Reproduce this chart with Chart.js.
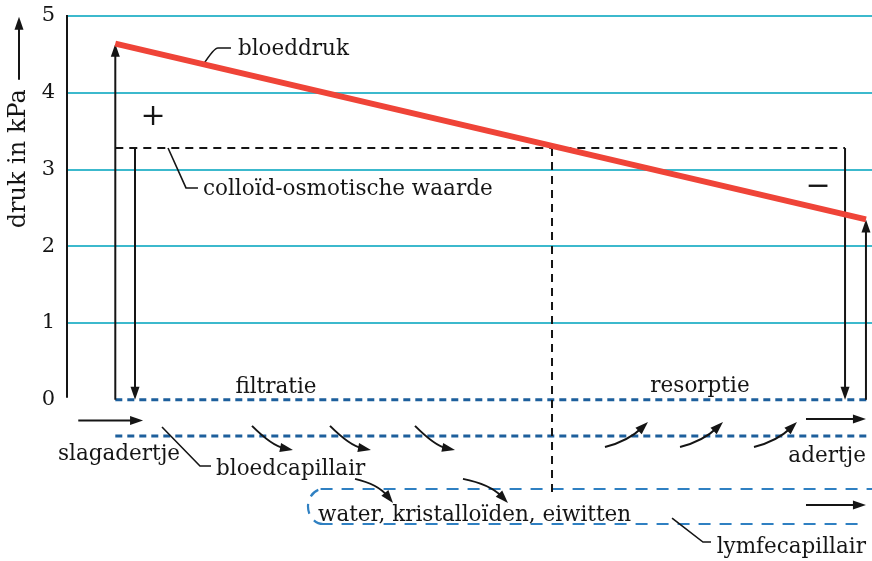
<!DOCTYPE html>
<html>
<head>
<meta charset="utf-8">
<script src="https://cdn.jsdelivr.net/npm/chart.js@4/dist/chart.umd.min.js"></script>
<style>
  html, body { margin: 0; padding: 0; background: #fff; }
  #wrap { width: 872px; height: 561px; }
</style>
</head>
<body>
<div id="wrap"><canvas id="chart"></canvas></div>
<script>
// ─── Data ─────────────────────────────────────────────────────────────────────
// x: position along the capillary (0 = y-axis, 100 = right edge), y: pressure in kPa
const pressureTicks = [0, 1, 2, 3, 4, 5];
const bloodX = [6, 99.25];
const bloodPressure = [4.64, 2.35];
const colloidX = [6, 96.65];
const colloidPressure = [3.28, 3.28];

// ─── Diagram annotations (data units) ─────────────────────────────────────────
const FONT = "'DejaVu Serif', serif";
const INK = '#151515';

// straight arrows [x1, y1, x2, y2], head at the second point
const straightArrows = [
  [bloodX[0], 0, bloodX[0], bloodPressure[0]],
  [8.45, colloidPressure[0], 8.45, 0],
  [colloidX[1], colloidPressure[1], colloidX[1], 0],
  [bloodX[1], 0, bloodX[1], bloodPressure[1]],
  [1.4, -0.27, 9.45, -0.27],
  [91.8, -0.25, 99.25, -0.25],
  [91.8, -1.37, 99.25, -1.37],
];

// curved arrows [sx, sy, cx, cy, ex, ey]
const curvedArrows = [
  // filtration out of the blood capillary
  [22.98, -0.34, 25.47, -0.60, 28.07, -0.654],
  [32.67, -0.34, 35.16, -0.60, 37.76, -0.654],
  [43.23, -0.34, 45.71, -0.60, 48.20, -0.654],
  // resorption back in
  [66.83, -0.615, 69.69, -0.537, 72.17, -0.289],
  [76.15, -0.615, 79.01, -0.537, 81.49, -0.289],
  [85.34, -0.615, 88.20, -0.537, 90.68, -0.289],
  // into the lymph capillary
  [35.78, -1.03, 38.63, -1.10, 40.50, -1.344],
  [49.19, -1.03, 52.55, -1.10, 54.78, -1.344],
];

// label leaders [x1, y1, cx, cy, x2, y2]
const leaders = [
  [16.89, 4.36, 18.26, 4.583, 20.37, 4.583],
  [12.55, 3.28, 14.78, 2.76, 16.27, 2.76],
  [11.80, -0.354, 16.52, -0.862, 17.89, -0.862],
  [75.16, -1.54, 79.00, -1.853, 80.00, -1.853],
];
const leaderCorners = [false, true, true, true];

// texts [text, x, y, align, baseline, size]
const labels = [
  ['bloeddruk', 21.24, 4.49, 'left', 'alphabetic', 21.5],
  ['colloïd-osmotische waarde', 16.89, 2.668, 'left', 'alphabetic', 21.5],
  ['+', 10.68, 3.684, 'center', 'middle', 30],
  ['\u2212', 93.29, 2.772, 'center', 'middle', 30],
  ['filtratie', 25.96, 0.091, 'center', 'alphabetic', 21.5],
  ['resorptie', 78.63, 0.104, 'center', 'alphabetic', 21.5],
  ['slagadertje', -1.12, -0.784, 'left', 'alphabetic', 21.5],
  ['bloedcapillair', 18.51, -0.98, 'left', 'alphabetic', 21.5],
  ['adertje', 99.25, -0.81, 'right', 'alphabetic', 21.5],
  ['water, kristalloïden, eiwitten', 31.18, -1.579, 'left', 'alphabetic', 21.5],
  ['lymfecapillair', 99.25, -1.996, 'right', 'alphabetic', 21.5],
];

const capillaryWall = [0, -0.47];      // blood capillary (dotted)
const lymphWall = [-1.162, -1.618];    // lymph capillary (dashed)

function arrowHead(ctx, tx, ty, ang) {
  ctx.save();
  ctx.translate(tx, ty);
  ctx.rotate(ang);
  ctx.beginPath();
  ctx.moveTo(0, 0);
  ctx.lineTo(-13, -4.5);
  ctx.lineTo(-13, 4.5);
  ctx.closePath();
  ctx.fill();
  ctx.restore();
}

const diagram = {
  id: 'diagram',
  beforeDatasetsDraw(chart) {
    const { ctx, scales: { x, y } } = chart;
    const px = v => x.getPixelForValue(v);
    const py = v => y.getPixelForValue(v);

    ctx.save();
    ctx.lineCap = 'butt';

    // y-axis line from 0 to 5
    ctx.strokeStyle = INK;
    ctx.lineWidth = 2;
    ctx.beginPath();
    ctx.moveTo(px(0), py(5) - 1);
    ctx.lineTo(px(0), py(0) - 2);
    ctx.stroke();

    // blood capillary walls
    ctx.strokeStyle = '#1d5f9c';
    ctx.lineWidth = 3;
    ctx.setLineDash([7, 5]);
    capillaryWall.forEach(v => {
      ctx.beginPath();
      ctx.moveTo(px(bloodX[0]), py(v));
      ctx.lineTo(px(99.5), py(v));
      ctx.stroke();
    });

    // lymph capillary with a closed left end
    ctx.strokeStyle = '#2f80c2';
    ctx.lineWidth = 2.2;
    ctx.setLineDash([12, 9]);
    const yTop = py(lymphWall[0]);
    const yBot = py(lymphWall[1]);
    ctx.beginPath();
    ctx.moveTo(px(31.5), yTop);
    ctx.lineTo(px(100), yTop);
    ctx.stroke();
    ctx.beginPath();
    ctx.moveTo(px(31.5), yBot);
    ctx.lineTo(px(98.6), yBot);
    ctx.stroke();
    ctx.setLineDash([10, 8]);
    ctx.beginPath();
    ctx.ellipse(px(31.8), (yTop + yBot) / 2, 15, (yBot - yTop) / 2, 0, Math.PI / 2, Math.PI * 1.5);
    ctx.stroke();

    // vertical dashed line where blood pressure meets colloid pressure
    ctx.strokeStyle = INK;
    ctx.lineWidth = 2;
    ctx.setLineDash([8, 6]);
    ctx.beginPath();
    ctx.moveTo(px(60.25), py(colloidPressure[0]));
    ctx.lineTo(px(60.25), py(-1.24));
    ctx.stroke();
    ctx.setLineDash([]);

    // straight arrows
    ctx.fillStyle = INK;
    straightArrows.forEach(([x1, y1, x2, y2]) => {
      const a = { x: px(x1), y: py(y1) };
      const b = { x: px(x2), y: py(y2) };
      const ang = Math.atan2(b.y - a.y, b.x - a.x);
      ctx.beginPath();
      ctx.moveTo(a.x, a.y);
      ctx.lineTo(b.x - Math.cos(ang) * 10, b.y - Math.sin(ang) * 10);
      ctx.stroke();
      arrowHead(ctx, b.x, b.y, ang);
    });

    // curved arrows
    curvedArrows.forEach(([sx, sy, cx, cy, ex, ey]) => {
      const s = { x: px(sx), y: py(sy) };
      const c = { x: px(cx), y: py(cy) };
      const e = { x: px(ex), y: py(ey) };
      const ang = Math.atan2(e.y - c.y, e.x - c.x);
      ctx.beginPath();
      ctx.moveTo(s.x, s.y);
      ctx.quadraticCurveTo(c.x, c.y, e.x - Math.cos(ang) * 9, e.y - Math.sin(ang) * 9);
      ctx.stroke();
      arrowHead(ctx, e.x, e.y, ang);
    });

    // label leaders
    ctx.lineWidth = 1.6;
    leaders.forEach(([x1, y1, cx, cy, x2, y2], i) => {
      ctx.beginPath();
      ctx.moveTo(px(x1), py(y1));
      if (leaderCorners[i]) ctx.lineTo(px(cx), py(cy));
      else ctx.quadraticCurveTo(px(cx), py(cy), px(cx) + 4, py(cy));
      ctx.lineTo(px(x2), py(y2));
      ctx.stroke();
    });

    ctx.restore();
  },
  afterDraw(chart) {
    const { ctx, scales: { x, y } } = chart;
    const px = v => x.getPixelForValue(v);
    const py = v => y.getPixelForValue(v);

    ctx.save();
    ctx.fillStyle = INK;
    labels.forEach(([text, lx, ly, align, base, size]) => {
      ctx.font = `${size}px ${FONT}`;
      ctx.textAlign = align;
      ctx.textBaseline = base;
      ctx.fillText(text, px(lx), py(ly));
    });

    // y-axis title with its upward arrow
    const tx = y.left + 19;
    ctx.translate(tx, py(3.14));
    ctx.rotate(-Math.PI / 2);
    ctx.font = `24px ${FONT}`;
    ctx.textAlign = 'center';
    ctx.textBaseline = 'middle';
    ctx.fillText('druk in kPa', 0, 0);
    ctx.restore();

    ctx.save();
    ctx.strokeStyle = INK;
    ctx.fillStyle = INK;
    ctx.lineWidth = 2;
    ctx.beginPath();
    ctx.moveTo(tx, py(4.17));
    ctx.lineTo(tx, py(4.99) + 10);
    ctx.stroke();
    arrowHead(ctx, tx, py(4.99), -Math.PI / 2);
    ctx.restore();
  },
};

new Chart(document.getElementById('chart'), {
  type: 'line',
  data: {
    datasets: [
      {
        label: 'bloeddruk',
        data: bloodX.map((v, i) => ({ x: v, y: bloodPressure[i] })),
        borderColor: '#ef4438',
        borderWidth: 6,
        borderCapStyle: 'butt',
        pointRadius: 0,
      },
      {
        label: 'colloïd-osmotische waarde',
        data: colloidX.map((v, i) => ({ x: v, y: colloidPressure[i] })),
        borderColor: INK,
        borderWidth: 2,
        borderDash: [8, 6],
        pointRadius: 0,
      },
    ],
  },
  options: {
    responsive: true,
    maintainAspectRatio: false,
    animation: false,
    layout: { padding: { top: 16, right: 0, bottom: 0, left: 0 } },
    plugins: {
      legend: { display: false },
      tooltip: { enabled: false },
    },
    scales: {
      x: {
        type: 'linear',
        display: false,
        min: 0,
        max: 100,
      },
      y: {
        type: 'linear',
        min: -2.1,
        max: 5,
        afterFit: (scale) => {
          scale.width = 67;
          scale.paddingTop = 0;
          scale.paddingBottom = 0;
        },
        afterBuildTicks: (scale) => { scale.ticks = pressureTicks.map(v => ({ value: v })); },
        border: { display: false },
        grid: {
          drawTicks: false,
          lineWidth: 2,
          color: (c) => (c.tick && c.tick.value > 0 ? '#3cb9cd' : 'rgba(0,0,0,0)'),
        },
        ticks: {
          padding: 12,
          color: INK,
          font: { family: 'DejaVu Serif', size: 21 },
        },
      },
    },
  },
  plugins: [diagram],
});
</script>
</body>
</html>
